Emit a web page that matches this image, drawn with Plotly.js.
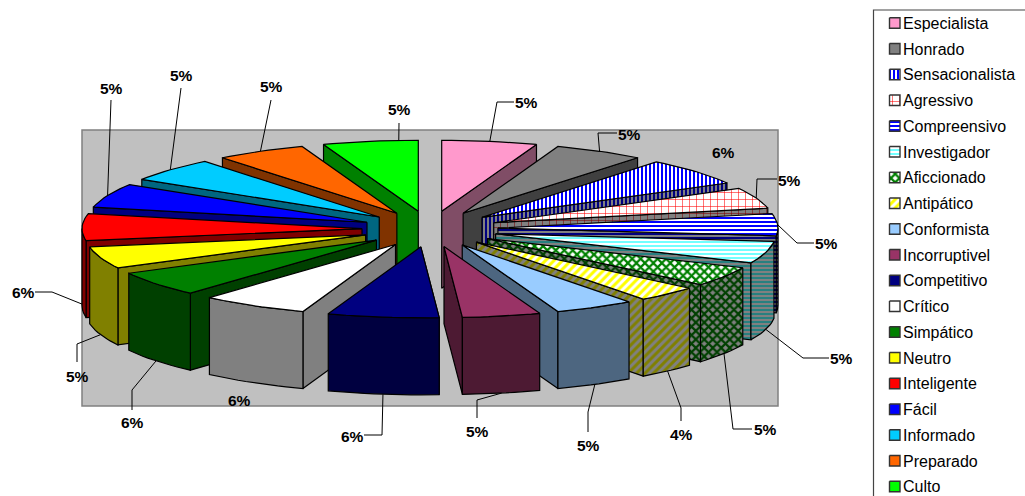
<!DOCTYPE html>
<html><head><meta charset="utf-8">
<script src="https://cdn.plot.ly/plotly-3.0.1.min.js"></script>
<style>html,body{margin:0;padding:0;background:#fff;overflow:hidden}</style>
</head><body><div id="chart" style="width:1025px;height:496px"></div>
<script>
// Categories clockwise from twelve o'clock, and their shares (%).
const categories = ["Especialista","Honrado","Sensacionalista","Agressivo","Compreensivo","Investigador","Aficcionado","Antipático","Conformista","Incorruptivel","Competitivo","Crítico","Simpático","Neutro","Inteligente","Fácil","Informado","Preparado","Culto"];
const values = [5.49,5.2,6.25,4.75,5.0,5.0,4.5,3.6,4.6,4.5,6.4,6.2,5.7,5.0,6.1,5.49,5.4,5.2,5.49];
const topColors = ["#FF99CC","#808080","#FFFFFF","#FFFFFF","#FFFFFF","#FFFFFF","#FFFFFF","#FFFFFF","#99CCFF","#993366","#000080","#FFFFFF","#008000","#FFFF00","#FF0000","#0000FF","#00CCFF","#FF6600","#00FF00"];
const sideColors = ["#804D66","#404040","#808080","#808080","#808080","#808080","#808080","#808080","#4D6680","#4D1A33","#000040","#808080","#004000","#808000","#800000","#000080","#006680","#803300","#008000"];
const patterns = {
  2:{shape:"|",fg:"#0000FF",side:"#000080",size:4,solidity:0.5},
  3:{shape:"+",fg:"#FF0000",side:"#800000",size:7,solidity:0.15},
  4:{shape:"-",fg:"#0000FF",side:"#000080",size:4,solidity:0.5},
  5:{shape:"-",fg:"#33FFFF",side:"#008080",size:4,solidity:0.35},
  6:{shape:"x",fg:"#008000",side:"#004000",size:6,solidity:0.6},
  7:{shape:"/",fg:"#FFFF00",side:"#808000",size:6,solidity:0.5}
};
// Hand-placed label layout: text centre, then the elbow of its leader (null = no leader).
const labelAt = [[526,102],[629,134],[723,152],[789,180],[826,243],[841,358],[765,429],[681,434],[588,445],[477,431],[352,436],[239,400],[132,422],[77,376],[23,292],[111,88],[181,75],[271,86],[399,109]];
const leaderVia = [[[514,102],[497,102]],[[617,133],[598,133]],null,[[777,179],[757,179]],[[814,243],[797,243]],[[829,358],[803,358]],[[752,429],[733,429]],[[681,421],[681,408]],[[588,432],[588,412]],[[477,418],[477,400]],[[364,435],[382,435]],null,[[132,410],[132,390]],[[77,362],[77,344]],[[35,292],[52,292]],[[111,100]],[[181,88]],[[271,100]],[[399,123]]];
// Where a leader meets the slice when not at its middle, and which slices it meets on the wall.
const leaderAngle = {18:356};
const leaderOnWall = {14:true};

// Projection of the exploded, tilted pie onto the page
const cx=430, cy=229, rx=280, ry=71, pullX=68, pullY=18, depth=77;
const rad=d=>d*Math.PI/180;
const total=values.reduce((a,b)=>a+b,0);
let acc=0;
const slices=values.map((v,i)=>{const a0=acc/total*360; acc+=v; const a1=acc/total*360;const mid=(a0+a1)/2;
  return {i,a0,a1,mid,ax:cx+pullX*Math.sin(rad(mid)),ay:cy-pullY*Math.cos(rad(mid))};});
const rim=(s,a)=>[s.ax+rx*Math.sin(rad(a)),s.ay-ry*Math.cos(rad(a))];
const traces=[];
function poly(xs,ys,fill,pat){
  const t={type:"scatter",mode:"lines",x:xs.concat(xs[0]),y:ys.concat(ys[0]),fill:"toself",fillcolor:fill,
    line:{color:"#000",width:1.2},hoverinfo:"skip",showlegend:false};
  if(pat) t.fillpattern={shape:pat.shape,fgcolor:pat.fg,bgcolor:fill,size:pat.size,solidity:pat.solidity,fillmode:"replace"};
  traces.push(t);
}
function arc(s,a,b){const p=[];const n=Math.max(2,Math.ceil((b-a)/2));for(let k=0;k<=n;k++)p.push(rim(s,a+(b-a)*k/n));return p;}
// painter's order: back slices first
slices.slice().sort((p,q)=>Math.cos(rad(q.mid))-Math.cos(rad(p.mid))).forEach(s=>{
  const pt=patterns[s.i], sp=pt?{shape:pt.shape,fg:pt.side,size:pt.size,solidity:pt.solidity}:null;
  const edge=s.mid<180?s.a1:s.a0;
  const e=rim(s,edge);
  poly([s.ax,e[0],e[0],s.ax],[s.ay,e[1],e[1]+depth,s.ay+depth],sideColors[s.i],sp);
  const w0=Math.max(s.a0,90), w1=Math.min(s.a1,270);
  if(w1>w0){const a=arc(s,w0,w1);
    poly(a.map(p=>p[0]).concat(a.slice().reverse().map(p=>p[0])),a.map(p=>p[1]).concat(a.slice().reverse().map(p=>p[1]+depth)),sideColors[s.i],sp);}
  const a=arc(s,s.a0,s.a1);
  poly([s.ax].concat(a.map(p=>p[0])),[s.ay].concat(a.map(p=>p[1])),topColors[s.i],pt);
});
// leaders, from the label through its elbow to the slice rim
slices.forEach(s=>{
  const via=leaderVia[s.i]; if(!via) return;
  const m=rim(s,leaderAngle[s.i]!==undefined?leaderAngle[s.i]:s.mid);
  const front=leaderOnWall[s.i]||Math.cos(rad(s.mid))<0;
  const pts=via.concat([[m[0],m[1]+(front?depth:0)]]);
  traces.push({type:"scatter",mode:"lines",x:pts.map(p=>p[0]),y:pts.map(p=>p[1]),line:{color:"#000",width:1},hoverinfo:"skip",showlegend:false});
});
// legend
const annotations=[];
const rowY=i=>23.3+25.75*i;
categories.forEach((c,i)=>{
  const y=rowY(i), pt=patterns[i];
  const t={type:"scatter",mode:"lines",x:[889.5,900,900,889.5,889.5],y:[y-5.5,y-5.5,y+5,y+5,y-5.5],fill:"toself",fillcolor:topColors[i],
    line:{color:"#333",width:1.4},hoverinfo:"skip",showlegend:false};
  if(pt) t.fillpattern={shape:pt.shape,fgcolor:pt.fg,bgcolor:topColors[i],size:pt.size,solidity:pt.solidity,fillmode:"replace"};
  traces.push(t);
  annotations.push({x:901,y:y,xref:"x",yref:"y",text:c,showarrow:false,xanchor:"left",yanchor:"middle",font:{family:"Liberation Sans",size:16,color:"#000"}});
  annotations.push({x:labelAt[i][0],y:labelAt[i][1],xref:"x",yref:"y",text:Math.round(values[i])+"%",showarrow:false,xanchor:"center",yanchor:"middle",font:{family:"Liberation Sans",size:15.5,color:"#000",weight:700}});
});
const layout={width:1025,height:496,margin:{l:0,r:0,t:0,b:0},paper_bgcolor:"#fff",plot_bgcolor:"#fff",showlegend:false,
  xaxis:{range:[0,1025],visible:false,fixedrange:true},yaxis:{range:[496,0],visible:false,fixedrange:true},
  shapes:[
    {type:"rect",layer:"below",x0:82,x1:778,y0:130,y1:406,fillcolor:"#C0C0C0",line:{color:"#808080",width:1.5}},
    {type:"rect",layer:"below",x0:873.5,x1:1040,y0:10,y1:520,fillcolor:"#FFF",line:{color:"#444",width:1.2}}
  ],annotations};
Plotly.newPlot("chart",traces,layout,{displayModeBar:false,staticPlot:true});
</script></body></html>
